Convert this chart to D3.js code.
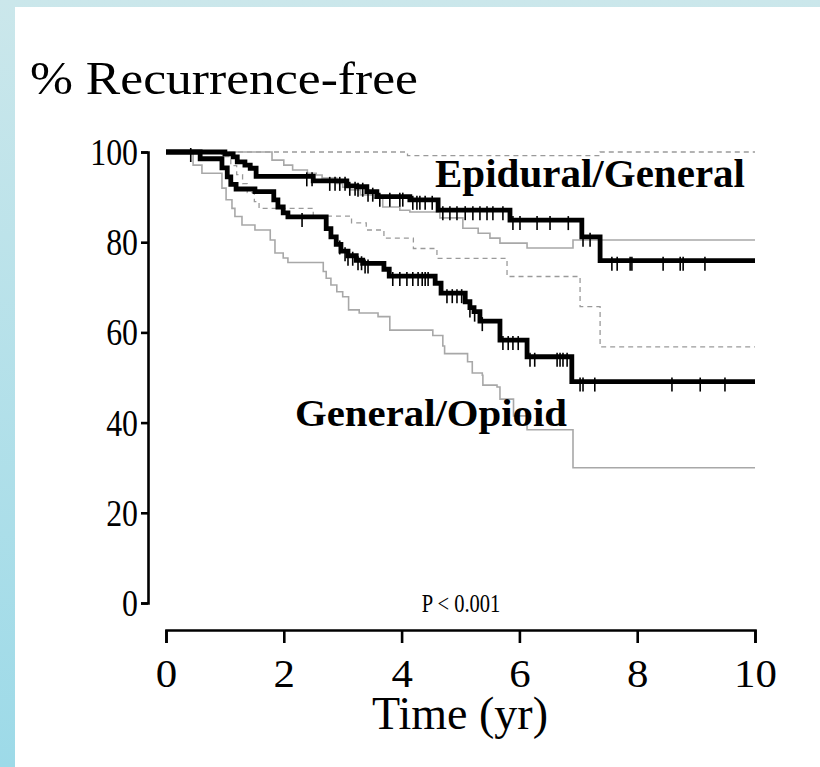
<!DOCTYPE html>
<html><head><meta charset="utf-8">
<script src="https://cdn.jsdelivr.net/npm/d3@7"></script>
<style>
html,body{margin:0;padding:0;}
body{width:820px;height:767px;overflow:hidden;}
text{font-family:"Liberation Serif","Times New Roman",serif;fill:#000;}
</style></head>
<body>
<svg id="chart" width="820" height="767"></svg>
<script>
// ---- data (time in years, % recurrence-free) ----
const xTicks = [0, 2, 4, 6, 8, 10];
const yTicks = [0, 20, 40, 60, 80, 100];

// Epidural/General Kaplan-Meier estimate (step after each time)
const epiTimes  = [0, 1.00, 1.14, 1.21, 1.34, 1.43, 1.53, 2.50, 3.07, 3.24, 3.41, 3.58, 4.14, 4.62, 5.84, 7.06, 7.37];
const epiValues = [100, 99.6, 98.9, 97.8, 97.1, 96.4, 94.6, 93.6, 92.5, 92.3, 91.2, 90.1, 89.4, 87.1, 84.9, 81.2, 75.9];
// Epidural lower / upper confidence bands
const epiLoTimes  = [0, 1.80, 2.00, 2.15, 2.40, 2.55, 2.65, 2.90, 3.00, 3.12, 3.30, 3.52, 3.68, 3.97, 4.14, 4.65, 5.04, 5.30, 5.50, 5.67, 6.13, 6.91];
const epiLoValues = [100, 98.2, 97.1, 96.0, 95.3, 94.9, 94.2, 93.0, 92.2, 91.6, 90.5, 89.8, 87.8, 87.1, 86.7, 85.4, 83.1, 82.0, 80.9, 79.8, 78.7, 80.5];
const epiHiTimes  = [0, 4.10, 7.37];
const epiHiValues = [100, 99.2, 100];
const epiCensor = [0.42, 2.39, 2.48, 2.78, 2.87, 2.95, 3.04, 3.12, 3.21, 3.26, 3.34, 3.43, 3.51, 3.63, 3.80, 3.97, 4.02, 4.19, 4.26, 4.31, 4.40, 4.52, 4.70, 4.82, 4.94, 5.08, 5.21, 5.33, 5.45, 5.55, 5.72, 5.89, 6.01, 6.30, 6.52, 6.83, 7.08, 7.20, 7.57, 7.66, 7.88, 7.91, 8.44, 8.73, 8.78, 9.15];

// General/Opioid Kaplan-Meier estimate
const genTimes  = [0, 0.58, 0.95, 1.04, 1.10, 1.19, 1.51, 1.83, 1.90, 1.99, 2.07, 2.72, 2.80, 2.89, 2.97, 3.09, 3.23, 3.34, 3.70, 3.79, 4.57, 4.67, 5.08, 5.16, 5.23, 5.33, 5.67, 6.13, 6.89];
const genValues = [100, 98.5, 96.5, 94.5, 92.8, 91.8, 91.2, 89.4, 87.8, 86.5, 85.6, 83.0, 81.2, 79.5, 78.0, 77.0, 76.0, 75.3, 74.0, 72.5, 70.9, 68.7, 66.8, 65.5, 64.6, 62.5, 58.3, 54.6, 49.1];
// General/Opioid lower / upper confidence bands
const genLoTimes  = [0, 0.46, 0.61, 0.95, 1.02, 1.12, 1.17, 1.29, 1.51, 1.77, 1.85, 1.99, 2.07, 2.67, 2.72, 2.80, 2.90, 3.00, 3.10, 3.28, 3.60, 3.80, 4.53, 4.70, 4.73, 5.12, 5.20, 5.37, 5.38, 5.62, 5.67, 5.90, 6.13, 6.91];
const genLoValues = [100, 97.1, 95.3, 92.0, 89.4, 87.5, 85.7, 83.8, 82.7, 80.5, 77.6, 76.5, 75.5, 73.5, 72.0, 70.5, 69.0, 67.9, 65.0, 64.3, 63.5, 60.5, 59.3, 57.0, 55.3, 53.5, 51.0, 50.5, 48.3, 47.9, 45.2, 41.5, 38.4, 30.0];
const genHiTimes  = [0, 0.95, 1.10, 1.20, 1.30, 1.38, 1.50, 1.58, 2.50, 3.15, 3.40, 3.70, 4.20, 4.60, 5.79, 7.03, 7.37];
const genHiValues = [100, 99, 97, 95, 93, 91, 89, 87.5, 85.8, 84.3, 82.7, 80.9, 78.6, 76.4, 72.4, 65.7, 56.8];
const genCensor = [2.31, 2.95, 3.04, 3.09, 3.17, 3.26, 3.32, 3.38, 3.43, 3.85, 3.97, 4.09, 4.19, 4.28, 4.35, 4.40, 4.45, 4.77, 4.86, 4.94, 5.02, 5.16, 5.24, 5.37, 5.72, 5.81, 5.89, 5.98, 6.18, 6.26, 6.64, 6.69, 6.74, 6.81, 7.03, 7.08, 7.28, 8.59, 9.07, 9.49];

const tMax = 10;
const yTitle = "% Recurrence-free";
const xTitle = "Time (yr)";
const pText = "P < 0.001";
const labelEpi = "Epidural/General";
const labelGen = "General/Opioid";

// ---- drawing ----
const svg = d3.select("#chart");
const defs = svg.append("defs");
const grad = defs.append("linearGradient").attr("id","bg").attr("x1",0).attr("y1",0).attr("x2",0).attr("y2",1);
grad.append("stop").attr("offset","0%").attr("stop-color","#cbe7eb");
grad.append("stop").attr("offset","100%").attr("stop-color","#9ddae8");
svg.append("rect").attr("width",820).attr("height",767).attr("fill","url(#bg)");
svg.append("rect").attr("x",15).attr("y",7).attr("width",805).attr("height",760).attr("fill","#fff");

const x = d3.scaleLinear().domain([0, 10]).range([166, 755]);
const y = d3.scaleLinear().domain([0, 100]).range([603, 152]);

function pts(times, vals){
  const p = times.map((t,i)=>[t, vals[i]]);
  p.push([tMax, vals[vals.length-1]]);
  return p;
}
const line = d3.line().x(d=>x(d[0])).y(d=>y(d[1])).curve(d3.curveStepAfter);
function valueAt(times, vals, t){
  const i = d3.bisectRight(times, t) - 1;
  return vals[Math.max(0,i)];
}

const g = svg.append("g");
// confidence bands
g.append("path").attr("d", line(pts(epiHiTimes, epiHiValues))).attr("fill","none").attr("stroke","#9a9a9a").attr("stroke-width",1.3).attr("stroke-dasharray","5,4");
g.append("path").attr("d", line(pts(genHiTimes, genHiValues))).attr("fill","none").attr("stroke","#9a9a9a").attr("stroke-width",1.3).attr("stroke-dasharray","5,4");
g.append("path").attr("d", line(pts(epiLoTimes, epiLoValues))).attr("fill","none").attr("stroke","#a8a8a8").attr("stroke-width",1.6);
g.append("path").attr("d", line(pts(genLoTimes, genLoValues))).attr("fill","none").attr("stroke","#a8a8a8").attr("stroke-width",1.6);

// main curves
g.append("path").attr("d", line(pts(genTimes, genValues))).attr("fill","none").attr("stroke","#000").attr("stroke-width",4.8);
g.append("path").attr("d", line(pts(epiTimes, epiValues))).attr("fill","none").attr("stroke","#000").attr("stroke-width",4.8);

// censor marks
function censor(list, times, vals){
  g.append("g").selectAll("line").data(list).join("line")
    .attr("x1", d=>x(d)).attr("x2", d=>x(d))
    .attr("y1", d=>y(valueAt(times, vals, d)) - 4)
    .attr("y2", d=>y(valueAt(times, vals, d)) + 10)
    .attr("stroke","#000").attr("stroke-width",1.6);
}
censor(epiCensor, epiTimes, epiValues);
censor(genCensor, genTimes, genValues);

// condense text horizontally to match the reference's narrow serif glyphs
function condense(sel, k){
  sel.each(function(){
    const w = this.getComputedTextLength();
    d3.select(this).attr("textLength", w*k).attr("lengthAdjust","spacingAndGlyphs");
  });
}

// axes
const yAxis = d3.axisLeft(y).tickValues(yTicks).tickSize(7).tickPadding(3).tickFormat(d3.format("d"));
const ya = svg.append("g").attr("transform","translate(148,0)").call(yAxis);
const xAxis = d3.axisBottom(x).tickValues(xTicks).tickSize(13).tickPadding(16).tickFormat(d3.format("d"));
const xa = svg.append("g").attr("transform","translate(0,630)").call(xAxis);
[ya, xa].forEach(a=>{
  a.select(".domain").attr("stroke","#000").attr("stroke-width",2.6);
  a.selectAll(".tick line").attr("stroke","#000").attr("stroke-width",2.6);
  a.selectAll("text").style("font-family","'Liberation Serif',serif").attr("fill","#000");
});
ya.selectAll("text").style("font-size","37px").attr("dy","0.34em");
condense(ya.selectAll("text"), 0.86);
xa.selectAll("text").style("font-size","39px");
condense(xa.selectAll("text"), 1.1);

// texts
svg.append("text").attr("x",30).attr("y",94).style("font-size","46px").text(yTitle)
  .attr("textLength",388).attr("lengthAdjust","spacingAndGlyphs");
svg.append("text").attr("x",460).attr("y",729).attr("text-anchor","middle").style("font-size","46px").text(xTitle);
svg.append("text").attr("x",461).attr("y",612).attr("text-anchor","middle").style("font-size","25px").text(pText)
  .call(s=>condense(s, 0.82));
svg.append("text").attr("x",590).attr("y",187).attr("text-anchor","middle").style("font-size","40px").style("font-weight","bold").text(labelEpi)
  .attr("textLength",310).attr("lengthAdjust","spacingAndGlyphs");
svg.append("text").attr("x",431).attr("y",426).attr("text-anchor","middle").style("font-size","38px").style("font-weight","bold").text(labelGen)
  .attr("textLength",272).attr("lengthAdjust","spacingAndGlyphs");
</script>
</body></html>
